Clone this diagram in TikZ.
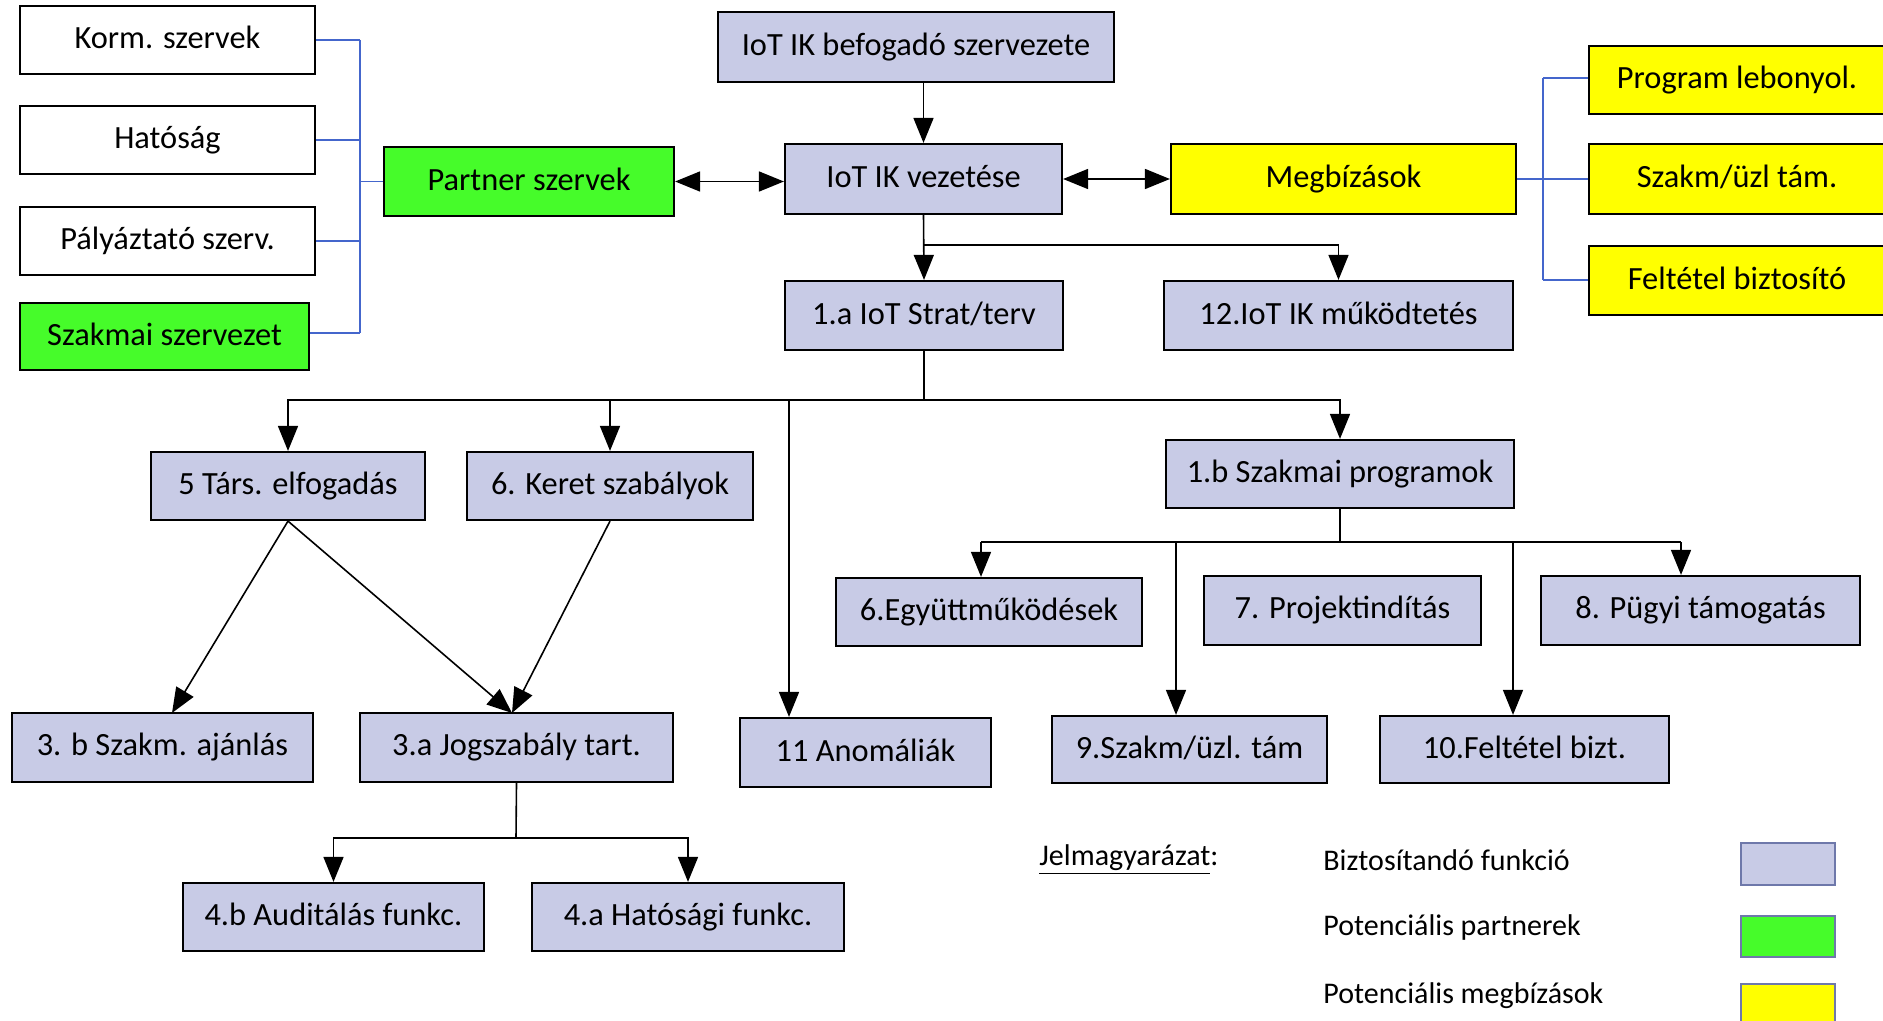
\documentclass[tikz,border=0pt]{standalone}
\usepackage{fontspec}
\setmainfont{Carlito}
\usetikzlibrary{arrows.meta}
\definecolor{lav}{RGB}{200,203,230}
\definecolor{grn}{RGB}{70,252,42}
\definecolor{yel}{RGB}{255,255,0}
\definecolor{blu}{RGB}{68,102,204}
\definecolor{swb}{RGB}{110,120,170}
\newcommand{\bnode}[7]{\node[#1, minimum width={(#4-#3)*0.5pt}, minimum height={(#6-#5)*0.5pt}] (#2) at ({(#3+#4)/2},{(#5+#6)/2}) {\raisebox{2.5pt}{#7}};}
\begin{document}
\begin{tikzpicture}[x=0.5pt,y=-0.5pt,
  fbox/.style={draw=black, line width=1.1pt, inner sep=0pt, font=\fontsize{16.2}{19}\selectfont},
  wbox/.style={fbox, fill=white},
  lbox/.style={fbox, fill=lav},
  gbox/.style={fbox, fill=grn},
  ybox/.style={fbox, fill=yel},
  arr/.style={line width=0.8pt, -{Triangle[length=12.5pt,width=10pt]}},
  dbl/.style={line width=0.8pt, {Triangle[length=12.5pt,width=10pt]}-{Triangle[length=12.5pt,width=10pt]}},
  ln/.style={line width=0.8pt},
  br/.style={draw=blu, line width=0.75pt},
  leg/.style={anchor=west, font=\fontsize{15}{18}\selectfont, inner sep=0pt},
  sw/.style={draw=swb, line width=0.6pt, inner sep=0pt}
]
\useasboundingbox (0,0) rectangle (1883,1021);
\clip (0,0) rectangle (1883,1021);
\fill[white] (0,0) rectangle (1883,1021);

% left column
\bnode{wbox}{korm}{20}{315}{6}{74}{Korm. szervek}
\bnode{wbox}{hat}{20}{315}{106}{174}{Hatóság}
\bnode{wbox}{paly}{20}{315}{207}{275}{Pályáztató szerv.}
\bnode{gbox}{szak}{20}{309}{303}{370}{Szakmai szervezet}
\bnode{gbox}{part}{384}{674}{147}{216}{Partner szervek}

% top center
\bnode{lbox}{bef}{718}{1114}{12}{82}{IoT IK befogadó szervezete}
\bnode{lbox}{vez}{785}{1062}{144}{214}{IoT IK vezetése}
\bnode{ybox}{megb}{1171}{1516}{144}{214}{Megbízások}

% right column
\bnode{ybox}{prog}{1589}{1885}{46}{114}{Program lebonyol.}
\bnode{ybox}{szut}{1589}{1885}{144}{214}{Szakm/üzl tám.}
\bnode{ybox}{felt}{1589}{1885}{246}{315}{Feltétel biztosító}

% second row
\bnode{lbox}{strat}{785}{1063}{281}{350}{1.a IoT Strat/terv}
\bnode{lbox}{mukod}{1164}{1513}{281}{350}{12.IoT IK működtetés}

% third row
\bnode{lbox}{tars}{151}{425}{452}{520}{5 Társ. elfogadás}
\bnode{lbox}{keret}{467}{753}{452}{520}{6. Keret szabályok}
\bnode{lbox}{szp}{1166}{1514}{440}{508}{1.b Szakmai programok}

% fourth row (right)
\bnode{lbox}{egy}{836}{1142}{578}{646}{6.Együttműködések}
\bnode{lbox}{proj}{1204}{1481}{576}{645}{7. Projektindítás}
\bnode{lbox}{pugy}{1541}{1860}{576}{645}{8. Pügyi támogatás}

% fifth row
\bnode{lbox}{szaj}{12}{313}{713}{782}{3. b Szakm. ajánlás}
\bnode{lbox}{jog}{360}{673}{713}{782}{3.a Jogszabály tart.}
\bnode{lbox}{anom}{740}{991}{718}{787}{11 Anomáliák}
\bnode{lbox}{szt}{1052}{1327}{716}{783}{9.Szakm/üzl. tám}
\bnode{lbox}{fbz}{1380}{1669}{716}{783}{10.Feltétel bizt.}

% sixth row
\bnode{lbox}{aud}{183}{484}{883}{951}{4.b Auditálás funkc.}
\bnode{lbox}{hfk}{532}{844}{883}{951}{4.a Hatósági funkc.}

% left bracket
\coordinate (lbt) at (360,40);
\coordinate (lbb) at (360,333);
\draw[br] (lbt) -- (lbb);
\draw[br] (korm.east) -- (korm.east -| lbt);
\draw[br] (hat.east) -- (hat.east -| lbt);
\draw[br] (paly.east) -- (paly.east -| lbt);
\draw[br] (szak.east |- lbb) -- (lbb);
\draw[br] (part.west) -- (part.west -| lbt);

% right bracket
\coordinate (rbt) at (1543,78);
\coordinate (rbb) at (1543,280);
\draw[br] (rbt) -- (rbb);
\draw[br] (rbt) -- (rbt -| prog.west);
\draw[br] (megb.east) -- (megb.east -| rbt);
\draw[br] (szut.west -| rbt) -- (szut.west);
\draw[br] (rbb) -- (rbb -| felt.west);

% top connectors
\draw[arr] (vez.north |- bef.south) -- (vez.north);
\draw[dbl] (part.east) -- (part.east -| vez.west);
\draw[dbl] (vez.east) -- (vez.east -| megb.west);
\coordinate (j1) at (923,245);
\draw[arr] (vez.south) -- (strat.north);
\draw[arr] (j1) -| (mukod.north);

% from 1.a
\coordinate (j2) at (924,400);
\coordinate (j2a) at (789,400);
\draw[ln] (strat.south) -- (j2);
\draw[arr] (j2) -| (tars.north);
\draw[arr] (j2) -| (keret.north);
\draw[arr] (j2) -| (szp.north);
\draw[arr] (j2a) -- (j2a |- anom.north);

% from 1.b
\coordinate (j3) at (1340,542);
\coordinate (k6) at (981,542);
\coordinate (k9) at (1176,542);
\coordinate (k10) at (1513,542);
\coordinate (k8) at (1681,542);
\draw[ln] (szp.south) -- (j3);
\draw[ln] (k6) -- (k8);
\draw[arr] (k6) -- (k6 |- egy.north);
\draw[arr] (k8) -- (k8 |- pugy.north);
\draw[arr] (k9) -- (k9 |- szt.north);
\draw[arr] (k10) -- (k10 |- fbz.north);

% diagonals
\coordinate (t3b) at (172,713);
\coordinate (t3a) at (512,713);
\draw[arr] (tars.south) -- (t3b);
\draw[arr] (tars.south) -- (t3a);
\draw[arr] (keret.south) -- (t3a);

% from 3.a
\coordinate (j4) at (516,838);
\draw[ln] (jog.south) -- (j4);
\draw[arr] (j4) -| (aud.north);
\draw[arr] (j4) -| (hfk.north);

% legend
\node[leg] (jel) at (1039,860) {\underline{Jelmagyarázat}:};
\node[leg] (l1) at (1323,860) {Biztosítandó funkció};
\node[leg] (l2) at (1323,927) {Potenciális partnerek};
\node[leg] (l3) at (1323,996) {Potenciális megbízások};
\bnode{sw, fill=lav}{s1}{1741}{1835}{843}{885}{}
\bnode{sw, fill=grn}{s2}{1741}{1835}{916}{957}{}
\bnode{sw, fill=yel}{s3}{1741}{1835}{984}{1030}{}
\end{tikzpicture}
\end{document}
